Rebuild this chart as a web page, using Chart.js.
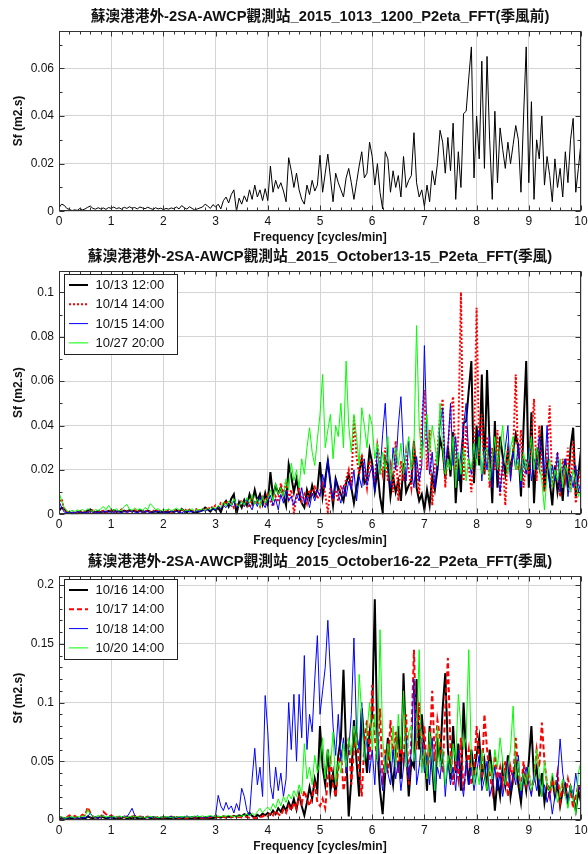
<!DOCTYPE html>
<html>
<head>
<meta charset="utf-8">
<script src="https://cdn.jsdelivr.net/npm/chart.js@4.4.0/dist/chart.umd.min.js"></script>
<style>
  body { margin: 0; background: #fff; }
  #wrap { position: relative; width: 588px; height: 854px; overflow: hidden; }
  canvas { position: absolute; left: 0; }
</style>
</head>
<body>
<div id="wrap">
  <canvas id="c1" width="588" height="248" style="top:0"></canvas>
  <canvas id="c2" width="588" height="309" style="top:242px"></canvas>
  <canvas id="c3" width="588" height="308" style="top:546px"></canvas>
</div>
<script>
// FFT bin frequencies, cycles/min (0.05 spacing, 0..10)
var freq = Array.from({ length: 201 }, function (_, i) { return +(i * 0.05).toFixed(2); });

var titles = [
  '蘇澳港港外-2SA-AWCP觀測站_2015_1013_1200_P2eta_FFT(季風前)',
  '蘇澳港港外-2SA-AWCP觀測站_2015_October13-15_P2eta_FFT(季風)',
  '蘇澳港港外-2SA-AWCP觀測站_2015_October16-22_P2eta_FFT(季風)'
];
var labelsOct13 = ['10/13 12:00', '10/14 14:00', '10/15 14:00', '10/27 20:00'];
var labelsOct16 = ['10/16 14:00', '10/17 14:00', '10/18 14:00', '10/20 14:00'];

// spectra, Sf (m2.s), one row = 0.5 cycles/min
var sf1013 = [
0.0015,0.003,0.0025,0.0012,0.0008,0.0003,0.0006,0.0004,0.0012,0.0006,
0.001,0.0017,0.0022,0.0012,0.0009,0.0015,0.001,0.0014,0.0008,0.0016,
0.0012,0.0018,0.0011,0.0015,0.0009,0.0017,0.0012,0.0019,0.0013,0.0016,
0.001,0.0018,0.0014,0.0011,0.0017,0.0012,0.0008,0.0015,0.001,0.0013,
0.0007,0.0012,0.0009,0.0014,0.0011,0.0018,0.001,0.0024,0.0015,0.0009,
0.0019,0.0012,0.0006,0.001,0.0014,0.0018,0.003,0.0022,0.0012,0.0028,
0.0018,0.003,0.001,0.0045,0.006,0.0035,0.007,0.009,0.0,0.0055,
0.003,0.0065,0.004,0.009,0.005,0.011,0.006,0.009,0.0045,0.0095,
0.0045,0.019,0.008,0.013,0.0095,0.012,0.0085,0.004,0.0225,0.017,
0.01,0.016,0.009,0.005,0.003,0.011,0.007,0.013,0.0085,0.011,
0.0235,0.008,0.016,0.024,0.014,0.004,0.016,0.012,0.009,0.006,
0.014,0.018,0.012,0.005,0.012,0.019,0.025,0.014,0.016,0.029,
0.023,0.011,0.02,0.008,0.001,0.025,0.022,0.008,0.017,0.01,
0.015,0.006,0.023,0.01,0.013,0.015,0.033,0.012,0.006,0.009,
0.002,0.011,0.004,0.017,0.011,0.02,0.034,0.029,0.016,0.031,
0.017,0.037,0.005,0.025,0.01,0.041,0.042,0.056,0.069,0.014,
0.04,0.022,0.063,0.018,0.065,0.03,0.005,0.042,0.012,0.035,
0.026,0.018,0.029,0.02,0.028,0.036,0.03,0.008,0.04,0.069,
0.012,0.046,0.005,0.03,0.022,0.04,0.011,0.023,0.015,0.004,
0.022,0.01,0.018,0.006,0.025,0.012,0.03,0.039,0.008,0.018,
0.029
];
var sf1014 = [
0.004,0.007,0.002,0.001,0.0008,0.0012,0.0006,0.001,0.0015,0.0009,
0.0012,0.0008,0.0014,0.0018,0.001,0.0013,0.0009,0.0016,0.0011,0.0014,
0.0018,0.0012,0.0009,0.0015,0.0022,0.0013,0.001,0.0016,0.0012,0.0019,
0.0011,0.0015,0.0009,0.0013,0.0017,0.001,0.0014,0.0021,0.0012,0.0016,
0.001,0.0014,0.0018,0.0011,0.0015,0.002,0.0013,0.0017,0.0024,0.0016,
0.0021,0.0014,0.0019,0.0025,0.0016,0.0022,0.003,0.002,0.0035,0.0028,
0.004,0.0032,0.005,0.0038,0.006,0.0042,0.0055,0.003,0.005,0.0035,
0.0065,0.004,0.0055,0.003,0.007,0.0045,0.006,0.0035,0.0075,0.005,
0.009,0.006,0.0035,0.008,0.0055,0.014,0.009,0.015,0.007,0.011,
0.0005,0.008,0.012,0.006,0.009,0.005,0.011,0.008,0.013,0.007,
0.01,0.015,0.009,0.001,0.012,0.007,0.011,0.006,0.013,0.009,
0.016,0.02,0.012,0.044,0.026,0.018,0.027,0.02,0.012,0.024,
0.02,0.014,0.031,0.024,0.018,0.03,0.015,0.022,0.01,0.033,
0.006,0.024,0.015,0.028,0.02,0.012,0.03,0.022,0.009,0.042,
0.056,0.02,0.038,0.004,0.022,0.028,0.045,0.052,0.012,0.03,
0.046,0.053,0.02,0.035,0.1,0.015,0.04,0.022,0.01,0.03,
0.093,0.025,0.045,0.018,0.035,0.012,0.03,0.02,0.038,0.008,
0.025,0.004,0.03,0.018,0.028,0.063,0.02,0.038,0.012,0.025,
0.018,0.035,0.052,0.015,0.04,0.02,0.01,0.028,0.049,0.012,
0.02,0.028,0.008,0.025,0.016,0.03,0.01,0.033,0.005,0.015,
0.02
];
var sf1015 = [
0.006,0.003,0.001,0.0008,0.0005,0.001,0.0007,0.0012,0.0009,0.0006,
0.001,0.0008,0.0013,0.0009,0.0011,0.0007,0.0012,0.001,0.0015,0.0009,
0.0012,0.0008,0.0014,0.001,0.0007,0.0013,0.0009,0.0012,0.0016,0.001,
0.0008,0.0012,0.0009,0.0014,0.0011,0.0007,0.0013,0.001,0.0015,0.0009,
0.0012,0.0008,0.0011,0.0014,0.0009,0.0013,0.001,0.0007,0.0012,0.0015,
0.001,0.0013,0.0009,0.0016,0.0012,0.0019,0.0014,0.0022,0.0017,0.0025,
0.002,0.0035,0.0025,0.004,0.003,0.005,0.0035,0.006,0.003,0.0045,
0.006,0.0035,0.007,0.004,0.002,0.006,0.0035,0.008,0.005,0.003,
0.006,0.0085,0.004,0.007,0.002,0.009,0.005,0.011,0.006,0.008,
0.004,0.009,0.006,0.012,0.005,0.008,0.003,0.0095,0.006,0.011,
0.008,0.018,0.012,0.025,0.014,0.007,0.016,0.009,0.005,0.013,
0.008,0.015,0.011,0.02,0.006,0.017,0.012,0.025,0.013,0.018,
0.022,0.01,0.03,0.018,0.036,0.05,0.025,0.012,0.03,0.02,
0.04,0.053,0.028,0.015,0.033,0.02,0.012,0.026,0.015,0.022,
0.076,0.035,0.018,0.028,0.012,0.025,0.04,0.048,0.02,0.03,
0.05,0.022,0.035,0.015,0.028,0.04,0.05,0.025,0.018,0.032,
0.025,0.038,0.015,0.03,0.02,0.035,0.012,0.028,0.018,0.01,
0.022,0.03,0.04,0.015,0.028,0.02,0.032,0.012,0.025,0.018,
0.03,0.015,0.025,0.02,0.035,0.028,0.018,0.04,0.012,0.022,
0.015,0.028,0.01,0.02,0.025,0.008,0.018,0.012,0.022,0.01,
0.015
];
var sf1027 = [
0.01,0.006,0.003,0.0015,0.001,0.0018,0.0012,0.002,0.0015,0.0022,
0.0014,0.0025,0.0018,0.0012,0.0022,0.0016,0.0025,0.0035,0.002,0.004,
0.0022,0.0018,0.0025,0.0015,0.002,0.0035,0.0045,0.0022,0.0018,0.0028,
0.002,0.0025,0.0018,0.003,0.0022,0.0048,0.0035,0.002,0.0025,0.0015,
0.0022,0.0018,0.0025,0.0016,0.0021,0.0028,0.0019,0.0024,0.0015,0.002,
0.0018,0.0025,0.0015,0.0022,0.0019,0.0026,0.0018,0.0028,0.002,0.0032,
0.0025,0.004,0.003,0.0055,0.0035,0.006,0.004,0.007,0.0045,0.0035,
0.006,0.004,0.0075,0.005,0.009,0.0045,0.007,0.0035,0.008,0.005,
0.007,0.011,0.006,0.014,0.009,0.012,0.008,0.016,0.011,0.023,
0.015,0.02,0.012,0.025,0.018,0.03,0.039,0.028,0.022,0.034,
0.045,0.063,0.03,0.038,0.045,0.025,0.04,0.035,0.05,0.03,
0.069,0.04,0.028,0.045,0.035,0.022,0.048,0.04,0.03,0.045,
0.04,0.025,0.032,0.018,0.028,0.02,0.035,0.015,0.025,0.03,
0.022,0.032,0.018,0.028,0.035,0.02,0.03,0.085,0.04,0.025,
0.035,0.045,0.028,0.04,0.032,0.022,0.05,0.03,0.018,0.025,
0.02,0.035,0.012,0.028,0.018,0.03,0.015,0.025,0.02,0.032,
0.022,0.035,0.018,0.028,0.03,0.015,0.025,0.035,0.02,0.03,
0.04,0.025,0.018,0.03,0.035,0.02,0.025,0.015,0.028,0.02,
0.025,0.035,0.02,0.03,0.022,0.015,0.002,0.018,0.025,0.012,
0.02,0.015,0.025,0.012,0.022,0.018,0.01,0.02,0.015,0.008,
0.012
];
var sf1016 = [
0.002,0.001,0.0015,0.0008,0.002,0.0012,0.0025,0.0015,0.001,0.0018,
0.0012,0.003,0.002,0.0015,0.0025,0.0018,0.003,0.0022,0.0015,0.002,
0.0025,0.0015,0.002,0.0012,0.0018,0.0025,0.0015,0.002,0.0012,0.0022,
0.0015,0.002,0.0012,0.0018,0.0025,0.0015,0.002,0.0012,0.0018,0.0015,
0.002,0.0012,0.0018,0.0015,0.0022,0.0012,0.0018,0.0015,0.0012,0.002,
0.0015,0.0012,0.002,0.0015,0.0018,0.0012,0.0022,0.0015,0.002,0.0018,
0.0022,0.0028,0.002,0.0032,0.0025,0.003,0.0022,0.0035,0.0028,0.004,
0.0032,0.005,0.004,0.006,0.0035,0.002,0.0045,0.003,0.0055,0.004,
0.006,0.0045,0.008,0.005,0.01,0.007,0.012,0.008,0.015,0.01,
0.018,0.009,0.022,0.012,0.004,0.015,0.028,0.018,0.035,0.025,
0.08,0.045,0.03,0.06,0.025,0.04,0.02,0.055,0.07,0.128,
0.06,0.003,0.035,0.085,0.05,0.02,0.095,0.065,0.04,0.075,
0.09,0.188,0.06,0.025,0.005,0.04,0.07,0.045,0.03,0.055,
0.08,0.035,0.125,0.06,0.02,0.05,0.045,0.12,0.06,0.09,
0.06,0.025,0.08,0.045,0.015,0.07,0.05,0.095,0.125,0.06,
0.035,0.08,0.04,0.065,0.025,0.1,0.055,0.03,0.06,0.04,
0.055,0.07,0.035,0.05,0.025,0.06,0.04,0.008,0.035,0.02,
0.045,0.03,0.055,0.02,0.035,0.05,0.03,0.015,0.04,0.025,
0.05,0.08,0.035,0.045,0.02,0.04,0.015,0.03,0.025,0.035,
0.02,0.03,0.012,0.025,0.03,0.015,0.028,0.02,0.008,0.025,
0.015
];
var sf1017 = [
0.003,0.002,0.0015,0.0025,0.004,0.003,0.0035,0.002,0.003,0.0045,
0.0035,0.011,0.006,0.003,0.002,0.003,0.002,0.007,0.005,0.003,
0.004,0.0025,0.003,0.002,0.0035,0.0025,0.003,0.002,0.0028,0.0035,
0.002,0.003,0.0025,0.0018,0.003,0.0022,0.0028,0.002,0.0025,0.0018,
0.0025,0.0018,0.0022,0.003,0.002,0.0025,0.0018,0.0022,0.0015,0.002,
0.0018,0.0025,0.002,0.0015,0.0022,0.0018,0.0025,0.002,0.0028,0.0022,
0.003,0.0025,0.0035,0.0028,0.002,0.003,0.0025,0.0032,0.002,0.0028,
0.0022,0.003,0.0025,0.0018,0.0015,0.002,0.0012,0.0025,0.003,0.0045,
0.003,0.006,0.004,0.008,0.005,0.0035,0.009,0.006,0.012,0.008,
0.015,0.01,0.02,0.014,0.025,0.018,0.012,0.02,0.03,0.015,
0.012,0.018,0.01,0.035,0.05,0.03,0.02,0.045,0.06,0.025,
0.04,0.07,0.03,0.06,0.075,0.045,0.02,0.065,0.085,0.05,
0.115,0.07,0.05,0.095,0.03,0.06,0.04,0.085,0.055,0.075,
0.04,0.065,0.05,0.09,0.03,0.07,0.145,0.06,0.1,0.045,
0.08,0.035,0.06,0.11,0.05,0.085,0.07,0.04,0.095,0.138,
0.06,0.03,0.05,0.035,0.07,0.025,0.045,0.06,0.03,0.04,
0.08,0.05,0.035,0.09,0.06,0.04,0.025,0.055,0.035,0.045,
0.03,0.05,0.02,0.045,0.035,0.07,0.04,0.025,0.05,0.03,
0.04,0.025,0.035,0.06,0.045,0.083,0.05,0.03,0.02,0.035,
0.025,0.04,0.015,0.03,0.02,0.035,0.025,0.01,0.02,0.03,
0.02
];
var sf1018 = [
0.003,0.002,0.001,0.0015,0.002,0.0025,0.0015,0.002,0.001,0.0018,
0.002,0.003,0.006,0.0025,0.002,0.0015,0.0025,0.004,0.002,0.0015,
0.002,0.0025,0.0018,0.003,0.002,0.0035,0.0025,0.006,0.01,0.004,
0.0025,0.002,0.003,0.0018,0.0025,0.002,0.0028,0.0022,0.0018,0.0025,
0.002,0.0028,0.0022,0.003,0.0018,0.0025,0.002,0.0028,0.0022,0.0035,
0.0025,0.003,0.0022,0.0035,0.0028,0.002,0.003,0.0025,0.0032,0.0028,
0.004,0.021,0.012,0.008,0.015,0.009,0.012,0.006,0.014,0.008,
0.027,0.02,0.008,0.004,0.035,0.061,0.03,0.045,0.02,0.106,
0.075,0.03,0.018,0.045,0.025,0.04,0.02,0.035,0.1,0.06,
0.107,0.05,0.107,0.07,0.14,0.06,0.09,0.075,0.12,0.157,
0.09,0.11,0.13,0.17,0.125,0.08,0.055,0.09,0.05,0.07,
0.04,0.06,0.09,0.155,0.075,0.06,0.1,0.05,0.07,0.04,
0.06,0.03,0.08,0.045,0.025,0.055,0.04,0.03,0.06,0.035,
0.05,0.025,0.045,0.07,0.035,0.06,0.12,0.03,0.045,0.07,
0.04,0.055,0.03,0.07,0.025,0.045,0.035,0.06,0.02,0.05,
0.03,0.045,0.025,0.06,0.035,0.02,0.05,0.03,0.045,0.025,
0.04,0.055,0.025,0.035,0.05,0.02,0.03,0.045,0.025,0.04,
0.02,0.035,0.05,0.025,0.04,0.03,0.055,0.02,0.035,0.045,
0.03,0.02,0.04,0.025,0.035,0.02,0.03,0.015,0.025,0.005,
0.02,0.035,0.069,0.04,0.025,0.015,0.03,0.02,0.04,0.025,
0.03
];
var sf1020 = [
0.002,0.003,0.0015,0.002,0.003,0.0025,0.002,0.003,0.0025,0.0035,
0.003,0.009,0.005,0.003,0.0025,0.004,0.003,0.0035,0.0025,0.003,
0.0025,0.003,0.002,0.0035,0.0025,0.003,0.002,0.0028,0.0035,0.0025,
0.003,0.0022,0.0028,0.002,0.0025,0.0032,0.0022,0.0028,0.002,0.0025,
0.0022,0.003,0.0025,0.002,0.0028,0.0022,0.003,0.0025,0.0032,0.0022,
0.003,0.0025,0.0035,0.0028,0.003,0.0035,0.0028,0.0032,0.0038,0.003,
0.0035,0.003,0.0028,0.0035,0.003,0.004,0.0032,0.0028,0.0038,0.003,
0.0035,0.004,0.005,0.0035,0.006,0.004,0.007,0.01,0.006,0.009,
0.011,0.008,0.014,0.01,0.018,0.012,0.02,0.015,0.022,0.018,
0.025,0.02,0.03,0.022,0.065,0.035,0.045,0.03,0.055,0.04,
0.05,0.07,0.035,0.06,0.045,0.075,0.03,0.05,0.04,0.065,
0.045,0.07,0.055,0.08,0.06,0.124,0.09,0.05,0.075,0.1,
0.06,0.09,0.05,0.162,0.07,0.04,0.065,0.05,0.08,0.045,
0.09,0.06,0.11,0.045,0.075,0.08,0.05,0.07,0.145,0.04,
0.06,0.035,0.075,0.05,0.025,0.08,0.045,0.06,0.03,0.055,
0.04,0.065,0.05,0.107,0.08,0.06,0.07,0.145,0.05,0.03,
0.045,0.03,0.06,0.04,0.025,0.05,0.035,0.06,0.045,0.07,
0.05,0.03,0.045,0.06,0.097,0.035,0.05,0.025,0.04,0.03,
0.045,0.025,0.035,0.06,0.04,0.02,0.05,0.03,0.025,0.04,
0.03,0.015,0.025,0.035,0.02,0.01,0.03,0.02,0.005,0.04,
0.05
];

Chart.defaults.font.family = '"Liberation Sans", Arial, "Noto Sans CJK TC", sans-serif';
Chart.defaults.color = '#111';

function pts(arr) {
  return arr.map(function (v, i) { return { x: freq[i], y: v }; });
}

// frame, inward ticks, title and boxed legend
var panelDeco = {
  id: 'panelDeco',
  afterDatasetsDraw: function (chart, args, o) {
    var ctx = chart.ctx, ca = chart.chartArea;
    var xs = chart.scales.x, ys = chart.scales.y;
    ctx.save();
    ctx.strokeStyle = '#333';
    ctx.lineWidth = 1;
    var l = Math.round(ca.left) + 0.5, r = Math.round(ca.right) - 0.5;
    var t = Math.round(ca.top) + 0.5, b = Math.round(ca.bottom) - 0.5;
    ctx.strokeRect(l, t, r - l, b - t);
    ctx.beginPath();
    for (var i = 0; i <= 50; i++) {
      var px = Math.round(xs.getPixelForValue(i / 5)) + 0.5;
      var len = i % 5 === 0 ? 5 : 3;
      ctx.moveTo(px, b); ctx.lineTo(px, b - len);
      ctx.moveTo(px, t); ctx.lineTo(px, t + len);
    }
    var n = Math.floor(ys.max / 0.01 + 1e-6);
    var every = Math.round(o.major / 0.01);
    for (var j = 0; j <= n; j++) {
      var py = Math.round(ys.getPixelForValue(j * 0.01)) + 0.5;
      var ylen = j % every === 0 ? 5 : 3;
      ctx.moveTo(l, py); ctx.lineTo(l + ylen, py);
      ctx.moveTo(r, py); ctx.lineTo(r - ylen, py);
    }
    ctx.stroke();

    if (o.legend) {
      var x0 = Math.round(ca.left + 5) + 0.5, y0 = Math.round(ca.top + 3) + 0.5;
      ctx.fillStyle = '#fff';
      ctx.fillRect(x0, y0, 113, 80);
      ctx.strokeStyle = '#222';
      ctx.strokeRect(x0, y0, 113, 80);
      ctx.font = '13px "Liberation Sans", Arial, sans-serif';
      ctx.textBaseline = 'middle';
      chart.data.datasets.forEach(function (ds, k) {
        var yy = y0 + 10.5 + k * 19.3;
        ctx.beginPath();
        ctx.setLineDash(ds.borderDash || []);
        ctx.strokeStyle = ds.borderColor;
        ctx.lineWidth = ds.borderWidth;
        ctx.moveTo(x0 + 4.5, yy); ctx.lineTo(x0 + 23.5, yy);
        ctx.stroke();
        ctx.setLineDash([]);
        ctx.fillStyle = '#111';
        ctx.fillText(ds.label, x0 + 31, yy + 0.5);
      });
    }

    ctx.fillStyle = '#111';
    ctx.font = 'bold 14.7px "Liberation Sans", Arial, "Noto Sans CJK TC", sans-serif';
    ctx.textAlign = 'center';
    ctx.textBaseline = 'middle';
    ctx.fillText(o.title, (ca.left + ca.right) / 2, o.titleY);
    ctx.restore();
  }
};

function makeChart(id, p) {
  return new Chart(document.getElementById(id), {
    type: 'line',
    data: { datasets: p.datasets },
    options: {
      responsive: false,
      animation: false,
      events: [],
      layout: { padding: { top: p.top, right: 7, bottom: 0, left: 0 } },
      elements: { point: { radius: 0 }, line: { tension: 0 } },
      plugins: {
        legend: { display: false },
        tooltip: { enabled: false },
        panelDeco: { title: p.title, titleY: p.titleY, legend: p.legend, major: p.ystep }
      },
      scales: {
        x: {
          type: 'linear', min: 0, max: 10,
          ticks: { stepSize: 1, padding: 3, font: { size: 12 } },
          grid: { color: '#d4d4d4', drawTicks: false },
          border: { display: false },
          title: { display: true, text: 'Frequency [cycles/min]', font: { size: 12, weight: 'bold' }, padding: { top: 0, bottom: p.xpad } },
          afterFit: function (s) { s.height = p.xh; s.paddingLeft = 0; s.paddingRight = 0; }
        },
        y: {
          min: 0, max: p.ymax,
          ticks: { stepSize: p.ystep, includeBounds: false, padding: 5, font: { size: 12 },
            callback: function (v) { return String(+v.toFixed(3)); } },
          grid: { color: '#d4d4d4', drawTicks: false },
          border: { display: false },
          title: { display: true, text: 'Sf (m2.s)', font: { size: 12, weight: 'bold' }, padding: { top: 11.5, bottom: 0 } },
          afterFit: function (s) { s.width = 59; s.paddingTop = 0; s.paddingBottom = 0; }
        }
      }
    },
    plugins: [panelDeco]
  });
}

makeChart('c1', {
  title: titles[0], titleY: 17, top: 30.7, xh: 36.7, xpad: 3, ymax: 0.0758, ystep: 0.02, legend: false,
  datasets: [
    { label: labelsOct13[0], data: pts(sf1013), borderColor: '#000', borderWidth: 1 }
  ]
});

makeChart('c2', {
  title: titles[1], titleY: 15.2, top: 29, xh: 36.7, xpad: 3, ymax: 0.1096, ystep: 0.02, legend: true,
  datasets: [
    { label: labelsOct13[0], data: pts(sf1013), borderColor: '#000', borderWidth: 2, order: 3 },
    { label: labelsOct13[1], data: pts(sf1014), borderColor: '#ff0000', borderWidth: 2, borderDash: [2, 2], order: 2 },
    { label: labelsOct13[2], data: pts(sf1015), borderColor: '#0000ff', borderWidth: 1, order: 1 },
    { label: labelsOct13[3], data: pts(sf1027), borderColor: '#00ff00', borderWidth: 1, order: 0 }
  ]
});

makeChart('c3', {
  title: titles[2], titleY: 16.2, top: 30.3, xh: 34, xpad: 0, ymax: 0.2075, ystep: 0.05, legend: true,
  datasets: [
    { label: labelsOct16[0], data: pts(sf1016), borderColor: '#000', borderWidth: 2, order: 3 },
    { label: labelsOct16[1], data: pts(sf1017), borderColor: '#ff0000', borderWidth: 2, borderDash: [5, 3], order: 2 },
    { label: labelsOct16[2], data: pts(sf1018), borderColor: '#0000ff', borderWidth: 1, order: 1 },
    { label: labelsOct16[3], data: pts(sf1020), borderColor: '#00ff00', borderWidth: 1, order: 0 }
  ]
});
</script>
</body>
</html>
